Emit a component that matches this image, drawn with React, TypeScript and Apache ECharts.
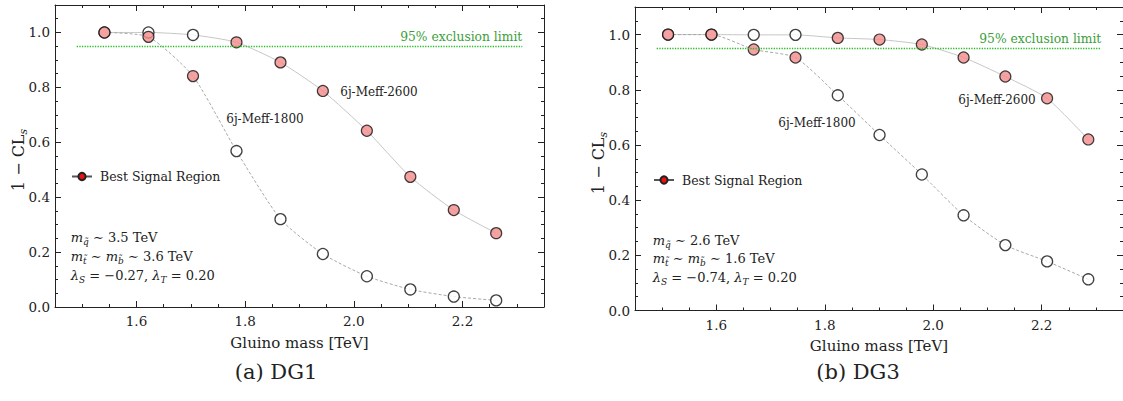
import React, { useEffect, useRef } from "react";
import * as echarts from "echarts";

// ---------- data ----------
// DG1 (left panel)
const massDG1 = [1.541, 1.622, 1.704, 1.784, 1.865, 1.943, 2.024, 2.104, 2.184, 2.262];
const meff1800DG1 = [1.0, 0.984, 0.841, 0.568, 0.32, 0.193, 0.112, 0.064, 0.038, 0.024];
const meff2600DG1 = [1.0, 1.0, 0.991, 0.964, 0.891, 0.787, 0.642, 0.474, 0.353, 0.269];
const bestDG1 = ["1800", "1800", "1800", "2600", "2600", "2600", "2600", "2600", "2600", "2600"];

// DG3 (right panel)
const massDG3 = [1.511, 1.591, 1.669, 1.746, 1.824, 1.901, 1.979, 2.056, 2.133, 2.21, 2.286];
const meff1800DG3 = [1.0, 1.0, 0.946, 0.917, 0.78, 0.636, 0.493, 0.345, 0.237, 0.178, 0.113];
const meff2600DG3 = [1.0, 1.0, 0.999, 0.999, 0.988, 0.982, 0.964, 0.917, 0.848, 0.769, 0.62];
const bestDG3 = ["2600", "2600", "1800", "1800", "2600", "2600", "2600", "2600", "2600", "2600", "2600"];

// exclusion limit
const exclusionLevel = 0.95;
const exclusionRange = [1.49, 2.31];

// axes
const xMin = 1.45;
const xMax = 2.35;
const yMin = 0;
const yMax = 1.1;
const xMajorTicks = [1.6, 1.8, 2.0, 2.2];
const yMajorTicks = [0.0, 0.2, 0.4, 0.6, 0.8, 1.0];
const minorStep = 0.05;

const seriesNames = ["6j-Meff-1800", "6j-Meff-2600"];
const legendName = "Best Signal Region";
const captions = ["(a) DG1", "(b) DG3"];
const exclusionText = "95% exclusion limit";
const yAxisTitle = "{n|1 − CL}{sub|s}";
const xAxisTitle = "Gluino mass [TeV]";

const paramLinesDG1 = [
  "{it|m}{sub|q̃}{n| ∼ 3.5 TeV}",
  "{it|m}{sub|t̃}{n| ∼ }{it|m}{sub|b̃}{n| ∼ 3.6 TeV}",
  "{it|λ}{sub|S}{n| = −0.27, }{it|λ}{sub|T}{n| = 0.20}",
];
const paramLinesDG3 = [
  "{it|m}{sub|q̃}{n| ∼ 2.6 TeV}",
  "{it|m}{sub|t̃}{n| ∼ }{it|m}{sub|b̃}{n| ∼ 1.6 TeV}",
  "{it|λ}{sub|S}{n| = −0.74, }{it|λ}{sub|T}{n| = 0.20}",
];

// ---------- styling ----------
const FONT = '"DejaVu Serif", "Liberation Serif", serif';
const AXIS_COLOR = "#222";
const RED_FILL = "#f38b8b";
const EDGE = "#111";

function minorTicks(min: number, max: number, step: number, majors: number[]) {
  const out: number[] = [];
  const n = Math.round((max - min) / step);
  for (let k = 0; k <= n; k++) {
    const v = Math.round((min + k * step) * 1000) / 1000;
    if (!majors.some((m) => Math.abs(m - v) < 1e-6)) out.push(v);
  }
  return out;
}

const xMinorTicks = minorTicks(xMin, xMax, minorStep, xMajorTicks);
const yMinorTicks = minorTicks(yMin, yMax, minorStep, yMajorTicks);

const tickLine = { color: AXIS_COLOR, width: 1 };

function makeXAxes(gridIndex: number) {
  const base = {
    type: "value" as const,
    gridIndex,
    min: xMin,
    max: xMax,
    splitLine: { show: false },
  };
  return [
    {
      ...base,
      position: "bottom",
      axisLine: { show: true, onZero: false, lineStyle: tickLine },
      axisTick: { show: true, inside: true, length: 6, customValues: xMajorTicks, lineStyle: tickLine },
      axisLabel: {
        show: true,
        customValues: xMajorTicks,
        formatter: (v: number) => v.toFixed(1),
        margin: 7,
        fontFamily: FONT,
        fontSize: 13.5,
        color: AXIS_COLOR,
      },
      name: xAxisTitle,
      nameLocation: "middle",
      nameGap: 28,
      nameTextStyle: { fontFamily: FONT, fontSize: 15, color: AXIS_COLOR },
    },
    {
      ...base,
      position: "bottom",
      axisLine: { show: false, onZero: false },
      axisTick: { show: true, inside: true, length: 3, customValues: xMinorTicks, lineStyle: tickLine },
      axisLabel: { show: false },
    },
    {
      ...base,
      position: "top",
      axisLine: { show: true, onZero: false, lineStyle: tickLine },
      axisTick: { show: true, inside: true, length: 6, customValues: xMajorTicks, lineStyle: tickLine },
      axisLabel: { show: false },
    },
    {
      ...base,
      position: "top",
      axisLine: { show: false, onZero: false },
      axisTick: { show: true, inside: true, length: 3, customValues: xMinorTicks, lineStyle: tickLine },
      axisLabel: { show: false },
    },
  ];
}

function makeYAxes(gridIndex: number) {
  const base = {
    type: "value" as const,
    gridIndex,
    min: yMin,
    max: yMax,
    splitLine: { show: false },
  };
  return [
    {
      ...base,
      position: "left",
      axisLine: { show: true, onZero: false, lineStyle: tickLine },
      axisTick: { show: true, inside: true, length: 6, customValues: yMajorTicks, lineStyle: tickLine },
      axisLabel: {
        show: true,
        customValues: yMajorTicks,
        formatter: (v: number) => v.toFixed(1),
        margin: 5,
        fontFamily: FONT,
        fontSize: 13.5,
        color: AXIS_COLOR,
      },
    },
    {
      ...base,
      position: "left",
      axisLine: { show: false, onZero: false },
      axisTick: { show: true, inside: true, length: 3, customValues: yMinorTicks, lineStyle: tickLine },
      axisLabel: { show: false },
    },
    {
      ...base,
      position: "right",
      axisLine: { show: true, onZero: false, lineStyle: tickLine },
      axisTick: { show: true, inside: true, length: 6, customValues: yMajorTicks, lineStyle: tickLine },
      axisLabel: { show: false },
    },
    {
      ...base,
      position: "right",
      axisLine: { show: false, onZero: false },
      axisTick: { show: true, inside: true, length: 3, customValues: yMinorTicks, lineStyle: tickLine },
      axisLabel: { show: false },
    },
  ];
}

function makeSeries(
  gridIndex: number,
  mass: number[],
  v1800: number[],
  v2600: number[],
  best: string[]
) {
  const axisIdx = { xAxisIndex: gridIndex * 4, yAxisIndex: gridIndex * 4 };
  const pts1800 = mass.map((m, i) => [m, v1800[i]]);
  const pts2600 = mass.map((m, i) => [m, v2600[i]]);
  const open: number[][] = [];
  const filled: number[][] = [];
  mass.forEach((m, i) => {
    if (best[i] === "1800") {
      filled.push(pts1800[i]);
      open.push(pts2600[i]);
    } else {
      filled.push(pts2600[i]);
      open.push(pts1800[i]);
    }
  });
  return [
    {
      type: "line",
      name: seriesNames[1] + "-" + gridIndex,
      ...axisIdx,
      data: pts2600,
      symbol: "none",
      smooth: 0.2,
      lineStyle: { color: "#c6c6c6", width: 1 },
      z: 2,
      silent: true,
      markLine: {
        silent: true,
        symbol: ["none", "none"],
        lineStyle: { type: "dotted", color: "#25c025", width: 1.3 },
        label: {
          show: true,
          position: "insideEndTop",
          distance: [0, 3],
          formatter: exclusionText,
          color: "#3a9e3a",
          fontFamily: FONT,
          fontSize: 12.3,
        },
        data: [
          [
            { coord: [exclusionRange[0], exclusionLevel] },
            { coord: [exclusionRange[1], exclusionLevel] },
          ],
        ],
      },
    },
    {
      type: "line",
      name: seriesNames[0] + "-" + gridIndex,
      ...axisIdx,
      data: pts1800,
      symbol: "none",
      smooth: 0.2,
      lineStyle: { color: "#a8a8a8", width: 1, type: [3, 2] },
      z: 2,
      silent: true,
    },
    {
      type: "scatter",
      name: "open-" + gridIndex,
      ...axisIdx,
      data: open,
      symbol: "circle",
      symbolSize: 11,
      itemStyle: { color: "#ffffff", borderColor: EDGE, borderWidth: 1.3 },
      z: 3,
      silent: true,
    },
    {
      type: "scatter",
      name: "best-" + gridIndex,
      ...axisIdx,
      data: filled,
      symbol: "circle",
      symbolSize: 11,
      itemStyle: { color: RED_FILL, borderColor: EDGE, borderWidth: 1.2 },
      z: 4,
      silent: true,
    },
    {
      type: "line",
      name: legendName,
      ...axisIdx,
      data: [],
      symbol: "circle",
      itemStyle: { color: "#f01010", borderColor: "#222", borderWidth: 0.7 },
      lineStyle: { color: "#555", width: 1 },
    },
  ];
}

function labelText(x: number, y: number, text: string, size = 12) {
  return {
    type: "text",
    x,
    y,
    silent: true,
    style: {
      text,
      fill: "#222",
      font: `${size}px ${FONT}`,
      align: "center",
      verticalAlign: "middle",
    },
  };
}

function richText(
  x: number,
  y: number,
  text: string,
  size: number,
  subSize: number,
  align: string,
  rotation = 0
) {
  return {
    type: "text",
    x,
    y,
    rotation,
    silent: true,
    style: {
      text,
      fill: "#222",
      align,
      verticalAlign: "middle",
      rich: {
        it: { fontFamily: FONT, fontSize: size, fontStyle: "italic", fill: "#222", lineHeight: size + 5, verticalAlign: "middle" },
        n: { fontFamily: FONT, fontSize: size, fill: "#222", lineHeight: size + 5, verticalAlign: "middle" },
        sub: { fontFamily: FONT, fontSize: subSize, fontStyle: "italic", fill: "#222", lineHeight: subSize + 1, verticalAlign: "bottom" },
      },
    },
  };
}

export default function App() {
  const ref = useRef<HTMLDivElement>(null);

  useEffect(() => {
    if (!ref.current) return;
    const chart = echarts.init(ref.current, null, { renderer: "svg" });

    const legendCommon = {
      data: [legendName],
      orient: "horizontal",
      padding: 0,
      itemWidth: 20,
      itemHeight: 9,
      selectedMode: false,
      textStyle: { fontFamily: FONT, fontSize: 12.5, color: "#222", padding: [0, 0, 0, 3] },
    };

    chart.setOption({
      animation: false,
      backgroundColor: "#ffffff",
      grid: [
        { left: 55, top: 5, width: 489, height: 302 },
        { left: 635, top: 7, width: 489, height: 303.5 },
      ],
      xAxis: [...makeXAxes(0), ...makeXAxes(1)],
      yAxis: [...makeYAxes(0), ...makeYAxes(1)],
      legend: [
        { ...legendCommon, left: 71, top: 170 },
        { ...legendCommon, left: 653, top: 173.5 },
      ],
      series: [
        ...makeSeries(0, massDG1, meff1800DG1, meff2600DG1, bestDG1),
        ...makeSeries(1, massDG3, meff1800DG3, meff2600DG3, bestDG3),
      ],
      graphic: [
        richText(18, 160, yAxisTitle, 16, 11, "center", Math.PI / 2),
        richText(598, 163, yAxisTitle, 16, 11, "center", Math.PI / 2),
        labelText(265, 119, seriesNames[0]),
        labelText(379, 92, seriesNames[1]),
        labelText(817, 123, seriesNames[0]),
        labelText(997, 100, seriesNames[1]),
        richText(70.7, 237, paramLinesDG1[0], 13, 9, "left"),
        richText(70.7, 256, paramLinesDG1[1], 13, 9, "left"),
        richText(70.7, 275, paramLinesDG1[2], 13, 9, "left"),
        richText(652.7, 240, paramLinesDG3[0], 13, 9, "left"),
        richText(652.7, 258.5, paramLinesDG3[1], 13, 9, "left"),
        richText(652.7, 277, paramLinesDG3[2], 13, 9, "left"),
        labelText(276, 372, captions[0], 21),
        labelText(858, 372, captions[1], 21),
      ],
    });

    return () => chart.dispose();
  }, []);

  return (
    <div
      ref={ref}
      style={{ position: "fixed", left: 0, top: 0, width: 1123, height: 401, background: "#fff" }}
    />
  );
}
